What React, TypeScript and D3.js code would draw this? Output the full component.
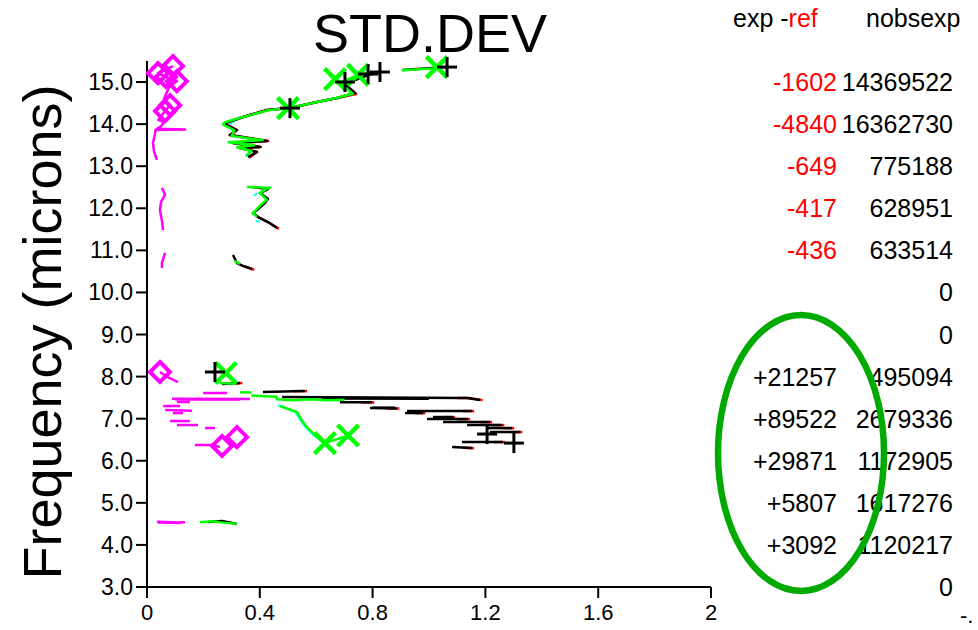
import React from "react";
import * as d3 from "d3";

type Pt = [number, number]; // [std.dev value, frequency in microns]

// ---- axis ticks ----
const xTicks = [0, 0.4, 0.8, 1.2, 1.6, 2];
const xTickLabels = ["0", "0.4", "0.8", "1.2", "1.6", "2"];
const yTicks = [15, 14, 13, 12, 11, 10, 9, 8, 7, 6, 5, 4, 3];

// ---- side table: exp - ref and number of observations ----
const tableFreqs = [15, 14, 13, 12, 11, 10, 9, 8, 7, 6, 5, 4, 3];
const expMinusRef = ["-1602", "-4840", "-649", "-417", "-436", "", "", "+21257", "+89522", "+29871", "+5807", "+3092", ""];
const nobsExp = ["14369522", "16362730", "775188", "628951", "633514", "0", "0", "495094", "2679336", "1172905", "1617276", "1120217", "0"];

// ---- black series (by channel band) ----
const blackBands: Pt[][] = [
  [[0.358, 13.218], [0.39, 13.337], [0.33, 13.432], [0.401, 13.455], [0.305, 13.55], [0.426, 13.598], [0.294, 13.74],
   [0.319, 13.859], [0.284, 13.978], [0.277, 14.026], [0.33, 14.145], [0.365, 14.216], [0.426, 14.335], [0.507, 14.382],
   [0.603, 14.525], [0.674, 14.62], [0.738, 14.739], [0.702, 14.952], [0.784, 15.166], [0.826, 15.238]],
  [[0.904, 15.285], [1.064, 15.356]],
  [[0.461, 11.53], [0.429, 11.673], [0.394, 11.792], [0.376, 11.887], [0.39, 11.958], [0.418, 12.125], [0.429, 12.22],
   [0.401, 12.362], [0.429, 12.457], [0.376, 12.505]],
  [[0.372, 10.556], [0.34, 10.63], [0.319, 10.699], [0.305, 10.889]],
  [[0.266, 7.824], [0.33, 7.847]],
  [[0.411, 7.633], [0.56, 7.657]],
  [[0.479, 7.514], [1.135, 7.491], [1.181, 7.443]],
  [[0.62, 7.478], [1.0, 7.472]],
  [[0.684, 7.39], [0.798, 7.388]],
  [[0.791, 7.253], [0.887, 7.243]],
  [[0.8, 7.262], [0.88, 7.262]],
  [[0.922, 7.182], [1.152, 7.182]],
  [[0.915, 7.134], [0.979, 7.134]],
  [[1.014, 7.039], [1.085, 7.039]],
  [[0.993, 6.991], [1.138, 6.991]],
  [[1.05, 6.92], [1.216, 6.92]],
  [[1.135, 6.849], [1.259, 6.849]],
  [[1.206, 6.777], [1.294, 6.777]],
  [[1.216, 6.683], [1.323, 6.683]],
  [[1.117, 6.445], [1.262, 6.445]],
  [[1.082, 6.326], [1.152, 6.302]],
  [[0.216, 4.544], [0.266, 4.568], [0.319, 4.497]],
];

// ---- red series ----
const redBands: Pt[][] = [
  [[0.362, 13.2], [0.39, 13.337], [0.33, 13.432], [0.404, 13.455], [0.305, 13.55], [0.43, 13.598], [0.294, 13.74],
   [0.319, 13.859], [0.284, 13.978], [0.277, 14.026], [0.33, 14.145], [0.365, 14.216], [0.426, 14.335], [0.507, 14.382],
   [0.603, 14.525], [0.674, 14.62], [0.745, 14.72]],
  [[0.468, 11.51], [0.429, 11.673], [0.394, 11.792], [0.376, 11.887]],
  [[0.38, 10.54], [0.34, 10.63]],
  [[0.3, 7.83], [0.338, 7.845]],
  [[0.52, 7.655], [0.568, 7.655]],
  [[1.1, 7.492], [1.142, 7.49], [1.19, 7.441]],
  [[0.76, 7.388], [0.806, 7.386]],
  [[0.85, 7.241], [0.895, 7.24]],
  [[1.12, 7.18], [1.16, 7.18]],
  [[0.95, 7.132], [0.987, 7.132]],
  [[1.05, 7.037], [1.093, 7.037]],
  [[1.1, 6.989], [1.146, 6.989]],
  [[1.18, 6.918], [1.224, 6.918]],
  [[1.22, 6.847], [1.267, 6.847]],
  [[1.26, 6.775], [1.302, 6.775]],
  [[1.29, 6.681], [1.331, 6.681]],
  [[1.23, 6.443], [1.27, 6.443]],
  [[1.12, 6.31], [1.16, 6.3]],
];

// ---- cyan series ----
const cyanBands: Pt[][] = [
  [[0.29, 13.98], [0.31, 14.08], [0.34, 14.16]],
  [[0.39, 12.36], [0.38, 12.3]],
  [[0.385, 11.7], [0.4, 11.68]],
  [[0.465, 7.32], [0.525, 7.16], [0.548, 6.93], [0.562, 6.8], [0.59, 6.61], [0.625, 6.45]],
];

// ---- green series ----
const greenBands: Pt[][] = [
  [[0.35, 13.24], [0.37, 13.36], [0.32, 13.45], [0.38, 13.5], [0.29, 13.57], [0.41, 13.62], [0.3, 13.72], [0.31, 13.85],
   [0.27, 13.99], [0.275, 14.04], [0.33, 14.15], [0.37, 14.22], [0.43, 14.33], [0.5, 14.38], [0.6, 14.52], [0.67, 14.62],
   [0.73, 14.72], [0.68, 14.98], [0.75, 15.17], [0.8, 15.24]],
  [[0.904, 15.28], [1.028, 15.33], [1.039, 15.36]],
  [[0.354, 12.505], [0.436, 12.49], [0.42, 12.45], [0.4, 12.36], [0.425, 12.2], [0.41, 12.12], [0.385, 11.95],
   [0.375, 11.88], [0.39, 11.8]],
  [[0.31, 10.75], [0.33, 10.68]],
  [[0.259, 7.847], [0.312, 7.83]],
  [[0.33, 7.63], [0.37, 7.62]],
  [[0.37, 7.55], [0.46, 7.52], [0.46, 7.46], [0.52, 7.44], [0.58, 7.46], [0.64, 7.44], [0.7, 7.45]],
  [[0.472, 7.3], [0.532, 7.158], [0.553, 6.92], [0.567, 6.8], [0.596, 6.61], [0.631, 6.42], [0.713, 6.6]],
  [[0.188, 4.54], [0.23, 4.56], [0.27, 4.53], [0.319, 4.5]],
];

// ---- magenta series ----
const magentaBands: Pt[][] = [
  [[0.035, 13.15], [0.025, 13.35], [0.021, 13.55], [0.028, 13.75], [0.03, 13.86], [0.135, 13.87], [0.035, 13.89],
   [0.05, 13.95], [0.06, 14.05], [0.04, 14.1], [0.064, 14.31], [0.082, 14.45], [0.06, 14.6], [0.08, 14.9],
   [0.106, 15.02], [0.067, 15.12], [0.039, 15.21], [0.092, 15.38]],
  [[0.053, 12.48], [0.064, 12.32], [0.05, 12.15], [0.046, 11.96], [0.053, 11.7], [0.057, 11.48]],
  [[0.064, 10.94], [0.053, 10.7], [0.053, 10.58]],
  [[0.046, 8.11], [0.075, 7.98], [0.11, 7.87]],
  [[0.199, 7.61], [0.284, 7.61]],
  [[0.089, 7.475], [0.365, 7.47]],
  [[0.1, 7.455], [0.33, 7.458]],
  [[0.106, 7.396], [0.152, 7.396]],
  [[0.057, 7.3], [0.117, 7.3]],
  [[0.064, 7.206], [0.16, 7.19]],
  [[0.092, 7.134], [0.128, 7.134]],
  [[0.082, 6.944], [0.152, 6.944]],
  [[0.106, 6.849], [0.181, 6.849]],
  [[0.206, 6.777], [0.241, 6.777]],
  [[0.17, 6.374], [0.23, 6.374], [0.259, 6.33]],
  [[0.035, 4.55], [0.11, 4.53], [0.135, 4.54]],
  [[0.04, 4.53], [0.12, 4.52]],
];

// ---- markers ----
const blackPlus: Pt[] = [[0.241, 8.11], [1.206, 6.635], [1.301, 6.42], [0.702, 15.0], [0.784, 15.19], [0.826, 15.238], [1.064, 15.356], [0.507, 14.38]];
const greenCross: Pt[] = [[0.28, 8.085], [0.631, 6.42], [0.713, 6.6], [0.667, 15.07], [0.748, 15.17], [1.028, 15.356], [0.5, 14.38]];
const magentaDiamond: Pt[] = [[0.039, 15.21], [0.092, 15.38], [0.106, 15.02], [0.067, 15.12], [0.082, 14.45], [0.064, 14.31], [0.046, 8.11], [0.319, 6.56], [0.266, 6.35]];

const FONT = "'Liberation Sans', Arial, Helvetica, sans-serif";

export default function App() {
  const x = d3.scaleLinear().domain([0, 2]).range([147, 711]);
  const y = d3.scaleLinear().domain([3, 15.5]).range([587, 61]);
  const line = d3.line<Pt>().x((d) => x(d[0])).y((d) => y(d[1]));

  const drawBands = (bands: Pt[][], color: string, width: number, key: string) =>
    bands.map((b, i) => (
      <path key={key + i} d={line(b) || ""} fill="none" stroke={color} strokeWidth={width} strokeLinejoin="round" strokeLinecap="butt" />
    ));

  return (
    <svg width={978} height={630} style={{ position: "absolute", left: 0, top: 0, background: "#fff" }} fontFamily={FONT}>
      <rect width={978} height={630} fill="#fff" />
      {/* title */}
      <text x={430} y={52} fontSize={54} textAnchor="middle">STD.DEV</text>
      {/* y-axis title */}
      <text transform="translate(61,332) rotate(-90)" fontSize={54} textAnchor="middle">Frequency (microns)</text>

      {/* axes */}
      <line x1={x(0)} y1={y(15.5)} x2={x(0)} y2={y(3)} stroke="#000" strokeWidth={2} />
      <line x1={x(0)} y1={y(3)} x2={x(2)} y2={y(3)} stroke="#000" strokeWidth={2} />
      {yTicks.map((t) => (
        <g key={"yt" + t}>
          <line x1={x(0) - 11} x2={x(0)} y1={y(t)} y2={y(t)} stroke="#000" strokeWidth={2} />
          <text x={x(0) - 14} y={y(t) + 8} fontSize={23} textAnchor="end">{t.toFixed(1)}</text>
        </g>
      ))}
      {xTicks.map((t, i) => (
        <g key={"xt" + t}>
          <line x1={x(t)} x2={x(t)} y1={y(3)} y2={y(3) + 11} stroke="#000" strokeWidth={2} />
          <text x={x(t)} y={620} fontSize={22} textAnchor="middle">{xTickLabels[i]}</text>
        </g>
      ))}

      {/* series */}
      {drawBands(magentaBands, "#ff00ff", 2.5, "m")}
      {drawBands(cyanBands, "#00ffff", 2, "c")}
      {drawBands(redBands, "#ff0000", 2.5, "r")}
      {drawBands(blackBands, "#000000", 2.5, "k")}
      {drawBands(greenBands, "#00ff00", 2.5, "g")}

      {/* markers */}
      {magentaDiamond.map((d, i) => {
        const cx = x(d[0]), cy = y(d[1]), r = 10;
        return <path key={"md" + i} d={`M${cx},${cy - r}L${cx + r},${cy}L${cx},${cy + r}L${cx - r},${cy}Z`} fill="none" stroke="#ff00ff" strokeWidth={4} />;
      })}
      {greenCross.map((d, i) => {
        const cx = x(d[0]), cy = y(d[1]), r = 10.5;
        return (
          <g key={"gx" + i} stroke="#00ff00" strokeWidth={4.5}>
            <line x1={cx - r} y1={cy - r} x2={cx + r} y2={cy + r} />
            <line x1={cx - r} y1={cy + r} x2={cx + r} y2={cy - r} />
          </g>
        );
      })}
      {blackPlus.map((d, i) => {
        const cx = x(d[0]), cy = y(d[1]), r = 10;
        return (
          <g key={"kp" + i} stroke="#000" strokeWidth={3}>
            <line x1={cx - r} y1={cy} x2={cx + r} y2={cy} />
            <line x1={cx} y1={cy - r} x2={cx} y2={cy + r} />
          </g>
        );
      })}

      {/* side table */}
      <text x={733} y={27} fontSize={25}>
        <tspan fill="#000">exp -</tspan>
        <tspan fill="#ff0000">ref</tspan>
      </text>
      <text x={866} y={27} fontSize={25}>nobsexp</text>
      {tableFreqs.map((f, i) => (
        <g key={"row" + f}>
          {expMinusRef[i] && (
            <text x={837} y={y(f) + 9} fontSize={25} textAnchor="end" fill={expMinusRef[i].startsWith("-") ? "#ff0000" : "#000"}>
              {expMinusRef[i]}
            </text>
          )}
          <text x={953} y={y(f) + 9} fontSize={25} textAnchor="end">{nobsExp[i]}</text>
        </g>
      ))}
      <text x={960} y={623} fontSize={22}>-.</text>

      {/* highlight */}
      <ellipse cx={801} cy={453} rx={83} ry={138} fill="none" stroke="#00aa00" strokeWidth={6.5} />
    </svg>
  );
}
